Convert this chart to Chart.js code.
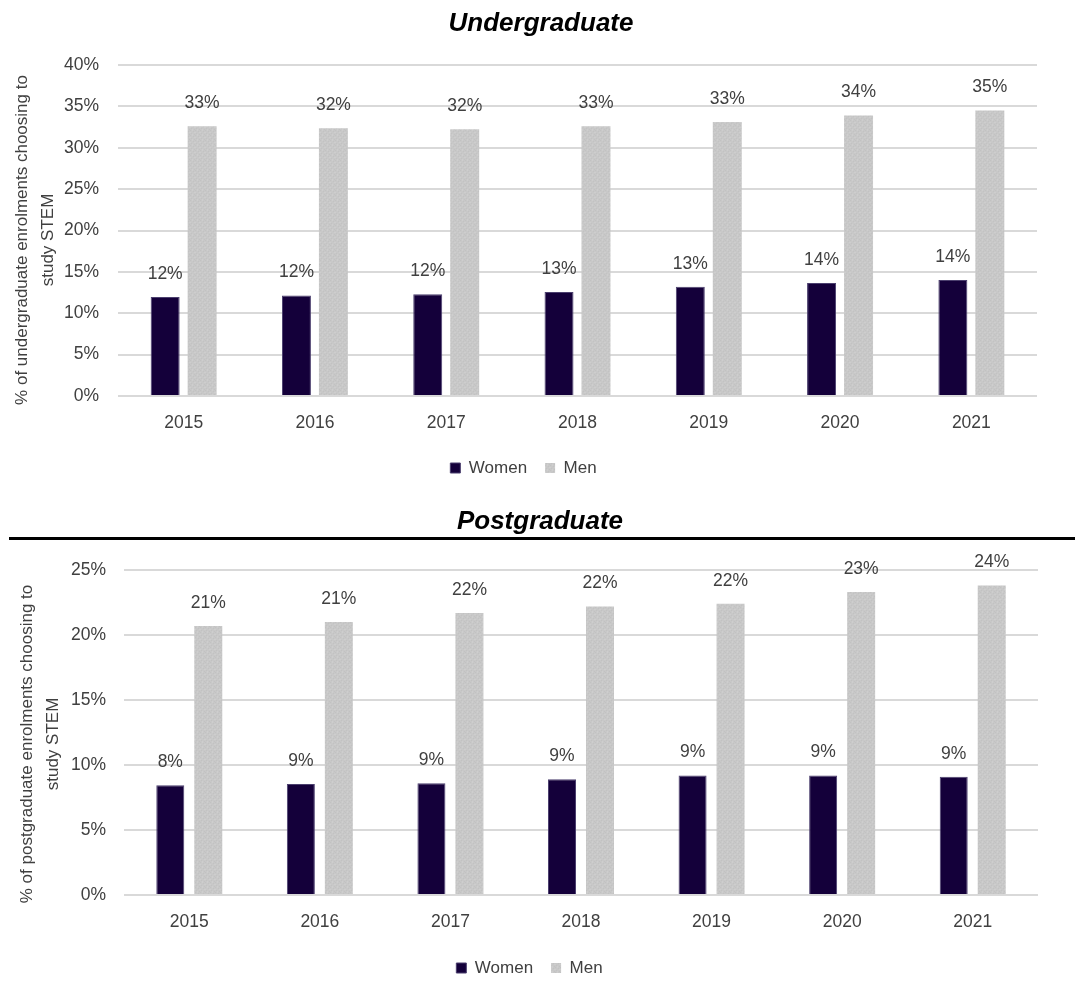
<!DOCTYPE html>
<html>
<head>
<meta charset="utf-8">
<title>STEM enrolments by gender</title>
<script src="https://cdn.jsdelivr.net/npm/chart.js@4.4.1/dist/chart.umd.min.js"></script>
<style>
  html, body { margin: 0; padding: 0; background: #ffffff; }
  #page { position: relative; width: 1075px; height: 988px; overflow: hidden; }
  #ug { position: absolute; left: 0; top: 0; }
  #pg { position: absolute; left: 0; top: 497px; }
  #rule { position: absolute; left: 9px; top: 537px; width: 1066px; height: 3px; background: #000000; }
</style>
</head>
<body>
<div id="page">
  <canvas id="ug" width="1075" height="495"></canvas>
  <canvas id="pg" width="1075" height="491"></canvas>
  <div id="rule"></div>
</div>
<script>
// Enrolment years shown on the x axis
const years = ['2015', '2016', '2017', '2018', '2019', '2020', '2021'];

// Share of undergraduate enrolments choosing STEM (%)
const ugWomen = [11.97, 12.14, 12.3, 12.58, 13.2, 13.67, 14.03];
const ugMen   = [32.6, 32.36, 32.25, 32.6, 33.1, 33.9, 34.5];

// Share of postgraduate enrolments choosing STEM (%)
const pgWomen = [8.44, 8.54, 8.6, 8.9, 9.2, 9.2, 9.1];
const pgMen   = [20.7, 21.0, 21.7, 22.2, 22.4, 23.3, 23.8];

// Series names and axis texts
const seriesNames = ['Women', 'Men'];
const ugTitle = 'Undergraduate';
const pgTitle = 'Postgraduate';
const ugAxisTitle = ['% of undergraduate enrolments choosing to', 'study STEM'];
const pgAxisTitle = ['% of postgraduate enrolments choosing to', 'study STEM'];
const ugAxisMax = 40;
const pgAxisMax = 25;
const axisStep = 5;

const FONT = "'Liberation Sans', Arial, sans-serif";
const TEXT = '#404040';
const WOMEN_FILL = '#14003a';
const WOMEN_EDGE = '#4b3f6e';
const GRID = '#d9d9d9';

// Fine, irregular speckle used for the light grey bars
function speckle() {
  const c = document.createElement('canvas');
  c.width = 5; c.height = 5;
  const g = c.getContext('2d');
  g.fillStyle = '#c8c8c8'; g.fillRect(0, 0, 5, 5);
  const dark = [[0, 0], [3, 1], [1, 3], [4, 4]];
  const light = [[2, 0], [0, 2], [4, 2], [2, 4]];
  g.fillStyle = '#c2c2c2'; dark.forEach(([x, y]) => g.fillRect(x, y, 1, 1));
  g.fillStyle = '#cecece'; light.forEach(([x, y]) => g.fillRect(x, y, 1, 1));
  return g.createPattern(c, 'repeat');
}
const MEN_FILL = speckle();

// Draws the value labels, the bold italic heading and the two-line y-axis title
function decor(o) {
  return {
    id: 'decor',
    afterDatasetsDraw(chart) {
      const ctx = chart.ctx;
      ctx.save();
      ctx.font = `${o.labelSize}px ${FONT}`;
      ctx.fillStyle = TEXT;
      ctx.textAlign = 'center';
      ctx.textBaseline = 'middle';
      chart.data.datasets.forEach((ds, i) => {
        chart.getDatasetMeta(i).data.forEach((bar, j) => {
          ctx.fillText(Math.round(ds.data[j]) + '%', bar.x, bar.y - o.labelGap);
        });
      });

      ctx.font = `italic bold ${o.titleSize}px ${FONT}`;
      ctx.fillStyle = '#000000';
      ctx.textBaseline = 'alphabetic';
      ctx.fillText(o.title, o.titleX, o.titleY);

      ctx.translate(o.axisX, o.axisY);
      ctx.rotate(-Math.PI / 2);
      ctx.font = `${o.axisSize}px ${FONT}`;
      ctx.fillStyle = TEXT;
      ctx.textBaseline = 'middle';
      o.axisTitle.forEach((line, k) => ctx.fillText(line, 0, k * o.axisGap));
      ctx.restore();
    }
  };
}

function buildChart(id, women, men, g) {
  return new Chart(document.getElementById(id), {
    type: 'bar',
    data: {
      labels: years,
      datasets: [
        { label: seriesNames[0], data: women, backgroundColor: WOMEN_FILL, borderColor: WOMEN_EDGE, borderWidth: 1,
          categoryPercentage: g.catPct, barPercentage: g.barPct },
        { label: seriesNames[1], data: men, backgroundColor: MEN_FILL, borderWidth: 0,
          categoryPercentage: g.catPct, barPercentage: g.barPct }
      ]
    },
    options: {
      responsive: false,
      devicePixelRatio: 1,
      animation: false,
      layout: { padding: g.padding },
      plugins: {
        title: { display: false },
        tooltip: { enabled: false },
        legend: {
          position: 'bottom',
          labels: {
            boxWidth: 10, boxHeight: 10, padding: 18,
            color: TEXT,
            font: { family: FONT, size: 17 }
          }
        }
      },
      scales: {
        x: {
          grid: { display: false },
          border: { display: false },
          ticks: { color: TEXT, font: { family: FONT, size: 17.5 }, padding: g.xPad },
          afterFit: s => { s.height = g.xHeight; }
        },
        y: {
          min: 0, max: g.max,
          grid: { color: GRID, lineWidth: 2, drawTicks: false },
          border: { display: false },
          ticks: {
            stepSize: axisStep, padding: g.yPad, color: TEXT,
            font: { family: FONT, size: 17.5 },
            callback: v => v + '%'
          },
          afterFit: s => { s.width = g.yWidth; }
        }
      }
    },
    plugins: [decor(g.decor)]
  });
}

buildChart('ug', ugWomen, ugMen, {
  max: ugAxisMax,
  catPct: 0.563, barPct: 0.784,
  padding: { left: 10, right: 38, top: 65, bottom: 8.5 },
  xHeight: 45.5, xPad: 9, yWidth: 108, yPad: 19,
  decor: {
    labelSize: 17.5, labelGap: 23,
    title: ugTitle, titleSize: 26, titleX: 541, titleY: 31,
    axisTitle: ugAxisTitle, axisSize: 17, axisX: 22, axisY: 240, axisGap: 26
  }
});

buildChart('pg', pgWomen, pgMen, {
  max: pgAxisMax,
  catPct: 0.582, barPct: 0.737,
  padding: { left: 21, right: 37, top: 73, bottom: 1.5 },
  xHeight: 46.5, xPad: 9, yWidth: 103, yPad: 18,
  decor: {
    labelSize: 17.5, labelGap: 23,
    title: pgTitle, titleSize: 26, titleX: 540, titleY: 32,
    axisTitle: pgAxisTitle, axisSize: 17, axisX: 27, axisY: 247, axisGap: 26
  }
});
</script>
</body>
</html>
